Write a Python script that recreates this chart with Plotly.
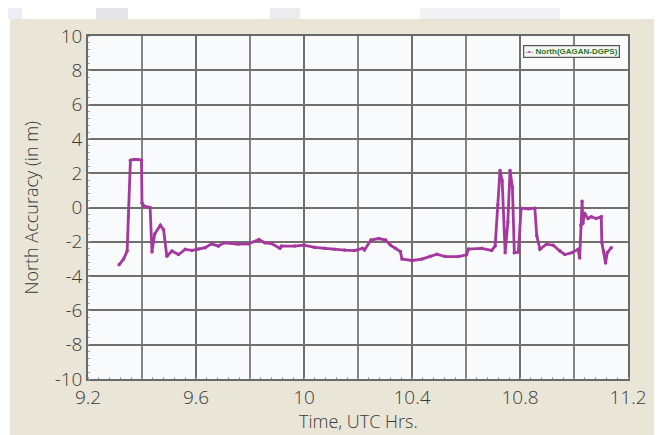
import plotly.graph_objects as go

# ---- data ----
time_utc = [9.315, 9.332, 9.345, 9.350, 9.357, 9.370, 9.385, 9.398, 9.400, 9.406,
            9.430, 9.437, 9.447, 9.468, 9.480, 9.492, 9.511, 9.535, 9.560, 9.585,
            9.609, 9.634, 9.658, 9.683, 9.702, 9.745, 9.757, 9.794, 9.833, 9.855,
            9.880, 9.911, 9.917, 9.966, 10.000, 10.039, 10.076, 10.113, 10.150, 10.187,
            10.217, 10.224, 10.248, 10.277, 10.302, 10.320, 10.339, 10.357, 10.363, 10.400,
            10.437, 10.467, 10.492, 10.523, 10.572, 10.602, 10.609, 10.658, 10.695, 10.708,
            10.718, 10.726, 10.734, 10.745, 10.755, 10.763, 10.772, 10.779, 10.794, 10.804,
            10.831, 10.855, 10.862, 10.874, 10.898, 10.923, 10.948, 10.966, 10.991, 11.015,
            11.021, 11.025, 11.030, 11.033, 11.039, 11.052, 11.064, 11.082, 11.101, 11.103,
            11.110, 11.117, 11.123, 11.138]
north_acc = [-3.34, -3.0, -2.54, -0.5, 2.75, 2.8, 2.8, 2.75, 0.26, 0.1,
             0.0, -2.6, -1.55, -1.04, -1.3, -2.84, -2.54, -2.74, -2.44, -2.5,
             -2.42, -2.34, -2.12, -2.25, -2.06, -2.12, -2.13, -2.12, -1.87, -2.06,
             -2.1, -2.38, -2.25, -2.25, -2.19, -2.32, -2.38, -2.44, -2.48, -2.51,
             -2.38, -2.48, -1.9, -1.81, -1.9, -2.19, -2.38, -2.57, -3.01, -3.09,
             -3.01, -2.86, -2.72, -2.86, -2.86, -2.76, -2.42, -2.38, -2.5, -2.24,
             0.16, 2.16, 1.56, -2.64, -0.84, 2.16, 1.16, -2.64, -2.6, -0.04,
             -0.08, -0.04, -1.64, -2.44, -2.14, -2.2, -2.54, -2.74, -2.64, -2.44,
             -2.94, -1.04, 0.36, -0.94, -0.34, -0.64, -0.54, -0.64, -0.54, -2.04,
             -2.54, -3.24, -2.64, -2.34]

series_name = "North(GAGAN-DGPS)"
x_ticks = [9.2, 9.6, 10, 10.4, 10.8, 11.2]
x_tick_labels = ["9.2", "9.6", "10", "10.4", "10.8", "11.2"]
x_grid = [9.4, 9.8, 10.2, 10.6, 11.0]
y_ticks = [10, 8, 6, 4, 2, 0, -2, -4, -6, -8, -10]
y_tick_labels = ["10", "8", "6", "4", "2", "0", "-2", "-4", "-6", "-8", "-10"]
x_title = "Time, UTC Hrs."
y_title = "North Accuracy (in m)"

LINE = "#a5389e"
BEIGE = "#e9e6d7"
GRID = "#726e6b"
TXT = "#3a3a3a"
FONT = "Open Sans, sans-serif"

# the page body adds an 8px offset; work in screenshot pixels and convert
OFF = 8
W, H = 662, 435
L, T = 88 - OFF, 36 - OFF
R, B = W - (628 - OFF), H - (379 - OFF)
pw, ph = W - L - R, H - T - B


def px_x(p):
    return (p - OFF - L) / pw


def px_y(p):
    return (H - B - (p - OFF)) / ph


fig = go.Figure()
fig.add_trace(go.Scatter(
    x=time_utc, y=north_acc, mode="lines+markers", name=series_name,
    line=dict(color=LINE, width=2.8),
    marker=dict(color=LINE, size=3.5),
    showlegend=False,
))

shapes = [
    # white strips outside the beige panel (top and left)
    dict(type="rect", xref="paper", yref="paper", x0=px_x(-20), x1=px_x(700), y0=px_y(19), y1=px_y(-20),
         fillcolor="white", line_width=0, layer="below"),
    dict(type="rect", xref="paper", yref="paper", x0=px_x(-20), x1=px_x(10), y0=px_y(460), y1=px_y(-20),
         fillcolor="white", line_width=0, layer="below"),
    # faint watermark blocks above the panel
    dict(type="rect", xref="paper", yref="paper", x0=px_x(8), x1=px_x(22), y0=px_y(19), y1=px_y(8),
         fillcolor="#eeedf3", line_width=0, layer="below"),
    dict(type="rect", xref="paper", yref="paper", x0=px_x(96), x1=px_x(128), y0=px_y(19), y1=px_y(8),
         fillcolor="#e6e6ea", line_width=0, layer="below"),
    dict(type="rect", xref="paper", yref="paper", x0=px_x(270), x1=px_x(300), y0=px_y(19), y1=px_y(8),
         fillcolor="#ececef", line_width=0, layer="below"),
    dict(type="rect", xref="paper", yref="paper", x0=px_x(420), x1=px_x(560), y0=px_y(19), y1=px_y(8),
         fillcolor="#f3f3f5", line_width=0, layer="below"),
]
for gx in x_grid:
    shapes.append(dict(type="line", xref="x", yref="paper", x0=gx, x1=gx, y0=0, y1=1,
                       line=dict(color=GRID, width=1.7), layer="below"))

legend_text = (f"<span style='color:{LINE}'>-•-</span> "
               f"<b>{series_name}</b>")

fig.update_layout(
    width=W, height=H,
    margin=dict(l=L, r=R, t=T, b=B, pad=0),
    paper_bgcolor=BEIGE,
    plot_bgcolor="#f8fafc",
    font=dict(family=FONT, color=TXT, size=18, weight=300),
    shapes=shapes,
    showlegend=False,
    annotations=[
        dict(text=x_title, xref="paper", yref="paper", x=0.5, y=px_y(421),
             xanchor="center", yanchor="middle", showarrow=False,
             font=dict(family=FONT, size=18, color=TXT, weight=300)),
        dict(text=y_title, xref="paper", yref="paper", x=px_x(30), y=0.5,
             xanchor="center", yanchor="middle", showarrow=False, textangle=-90,
             font=dict(family=FONT, size=18, color=TXT, weight=300)),
        dict(text=legend_text, xref="paper", yref="paper", x=px_x(523), y=px_y(45),
             xanchor="left", yanchor="top", showarrow=False, align="left",
             bgcolor="#f4f6f0", bordercolor="#555555", borderwidth=1.2, borderpad=1,
             font=dict(family="Liberation Sans Narrow, Arial Narrow, sans-serif", size=8,
                       color="#2d7228")),
    ],
)

fig.update_xaxes(
    range=[9.2, 11.2], tickmode="array", tickvals=x_ticks, ticktext=x_tick_labels,
    showgrid=True, gridcolor=GRID, gridwidth=1.7,
    showline=True, linecolor="#6a6a6a", linewidth=1.5, mirror=True,
    ticks="", zeroline=False,
    minor=dict(dtick=0.04, ticks="inside", ticklen=2, tickcolor="#a0a0a0", showgrid=False),
    tickfont=dict(family=FONT, size=19, color=TXT, weight=300),
)
fig.update_yaxes(
    range=[-10, 10], tickmode="array", tickvals=y_ticks, ticktext=y_tick_labels,
    showgrid=True, gridcolor=GRID, gridwidth=1.7,
    showline=True, linecolor="#6a6a6a", linewidth=1.5, mirror=True,
    ticks="", zeroline=False,
    minor=dict(dtick=0.4, ticks="inside", ticklen=2, tickcolor="#a0a0a0", showgrid=False),
    tickfont=dict(family=FONT, size=19, color=TXT, weight=300),
)

fig.write_html("out.html")
